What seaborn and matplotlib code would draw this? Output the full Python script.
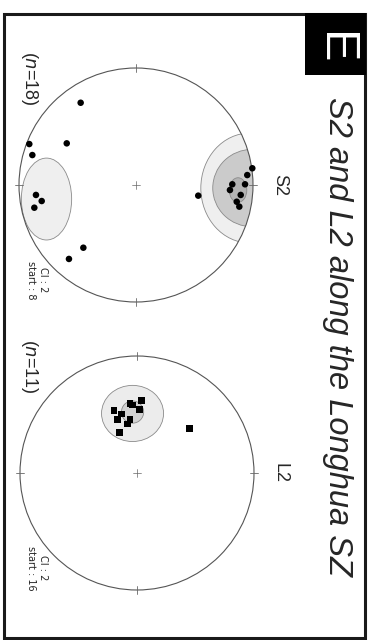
"""
Stereonet panel E: S2 poles and L2 lineations along the Longhua SZ
(figure is drawn rotated, text reads top to bottom)
"""
import numpy as np
import matplotlib
matplotlib.use('Agg')
import matplotlib.pyplot as plt
import seaborn as sns
import pandas as pd
from matplotlib.patches import Circle, Ellipse, Rectangle

# projected positions on the unit net (x right, y up, in the rotated page)
S2_X = [-0.473, -0.912, -0.886, -0.592, -0.855, -0.806, -0.869, -0.450, -0.573,
        0.532, 0.994, 0.951, 0.932, 0.823, 0.803, 0.895, 0.861, 0.883]
S2_Y = [0.703, 0.350, 0.256, 0.356, -0.085, -0.137, -0.194, -0.536, -0.632,
        -0.091, 0.143, 0.085, 0.006, 0.006, -0.043, -0.085, -0.143, -0.185]

L2_X = [0.040, 0.020, -0.060, -0.037, -0.197, -0.131, -0.168, -0.060, -0.083, -0.151, 0.447]
L2_Y = [0.618, 0.544, 0.596, 0.581, 0.532, 0.504, 0.459, 0.459, 0.419, 0.344, 0.382]

# density contours (centre x, centre y, width, height, fill)
S2_CONT_X = [0.974, -0.765, 0.991, 0.872]
S2_CONT_Y = [-0.026, -0.120, -0.026, -0.043]
S2_CONT_W = [0.84, 0.43, 0.67, 0.15]
S2_CONT_H = [0.94, 0.70, 0.66, 0.21]
S2_CONT_C = ['#efefef', '#efefef', '#cbcbcb', '#b3b3b3']

L2_CONT_X = [-0.038, -0.038]
L2_CONT_Y = [0.509, 0.521]
L2_CONT_W = [0.53, 0.19]
L2_CONT_H = [0.48, 0.19]
L2_CONT_C = ['#ececec', '#d2d2d2']

NETS = ['S2', 'L2']
N_LABELS = ['18', '11']
CI_START = ['8', '16']

W, H = 372, 640
R = 117
CENTRES = [(136, 185), (137, 473)]
PAD = 1.08
FONT = 'Liberation Sans'


def fx(px):
    return px / W


def fy(py):
    return 1 - py / H


def draw_net(ax, xs, ys, marker, cx, cy, cw, ch, cc):
    ax.set_xlim(-PAD, PAD)
    ax.set_ylim(-PAD, PAD)
    ax.set_aspect('equal')
    ax.axis('off')

    rim = Circle((0, 0), 1, fill=False, ec='#555555', lw=0.8, zorder=5)
    ax.add_patch(rim)
    clip = Circle((0, 0), 1, transform=ax.transData)
    for x, y, w, h, c in zip(cx, cy, cw, ch, cc):
        e = Ellipse((x, y), w, h, fc=c, ec='#8a8a8a', lw=0.6, zorder=1)
        ax.add_patch(e)
        e.set_clip_path(clip)

    # N/E/S/W ticks and centre cross
    t = 0.03
    for a in [0, 90, 180, 270]:
        r = np.deg2rad(a)
        ax.plot([(1 - t) * np.cos(r), (1 + t) * np.cos(r)],
                [(1 - t) * np.sin(r), (1 + t) * np.sin(r)],
                color='#666666', lw=0.6, zorder=5)
    ax.plot([-0.03, 0.03], [0, 0], color='#666666', lw=0.5)
    ax.plot([0, 0], [-0.03, 0.03], color='#666666', lw=0.5)

    df = pd.DataFrame({'x': xs, 'y': ys})
    sns.scatterplot(data=df, x='x', y='y', marker=marker, s=22, color='black',
                    edgecolor='none', ax=ax, zorder=6, legend=False)


sns.set_style('white')
plt.rcParams['font.family'] = [FONT, 'DejaVu Sans']

fig = plt.figure(figsize=(W / 100, H / 100), dpi=100)

# outer frame and panel letter box
fig.add_artist(Rectangle((fx(3.5), fy(637.5)), fx(365) - fx(3.5), fy(13.5) - fy(637.5),
                         transform=fig.transFigure, fill=False, ec='#1a1a1a', lw=2.2))
fig.add_artist(Rectangle((fx(305), fy(75)), fx(366) - fx(305), fy(13) - fy(75),
                         transform=fig.transFigure, fc='black', ec='black', lw=0))
fig.text(fx(334), fy(48), 'E', color='white', fontsize=35, rotation=-90,
         ha='center', va='center', family=FONT)
fig.text(fx(337), fy(336), 'S2 and L2 along the Longhua SZ', fontsize=23.5,
         style='italic', rotation=-90, ha='center', va='center', family=FONT)

data = [(S2_X, S2_Y, 'o', S2_CONT_X, S2_CONT_Y, S2_CONT_W, S2_CONT_H, S2_CONT_C),
        (L2_X, L2_Y, 's', L2_CONT_X, L2_CONT_Y, L2_CONT_W, L2_CONT_H, L2_CONT_C)]

for i, (name, n, start) in enumerate(zip(NETS, N_LABELS, CI_START)):
    px, py = CENTRES[i]
    half = R * PAD
    ax = fig.add_axes([fx(px - half), fy(py + half), 2 * half / W, 2 * half / H])
    draw_net(ax, *data[i])

    fig.text(fx(280), fy(py), name, fontsize=13, rotation=-90,
             ha='center', va='center', family=FONT)
    fig.text(fx(29), fy(py - 107), '($\\mathit{n}$=' + n + ')', fontsize=13,
             rotation=-90, ha='center', va='center', family=FONT)
    fig.text(fx(37), fy(py + 95), 'CI : 2\nstart : ' + start, fontsize=7,
             rotation=-90, ha='center', va='center', linespacing=1.3,
             family='Liberation Sans Narrow')

fig.savefig('out.png', dpi=100)
